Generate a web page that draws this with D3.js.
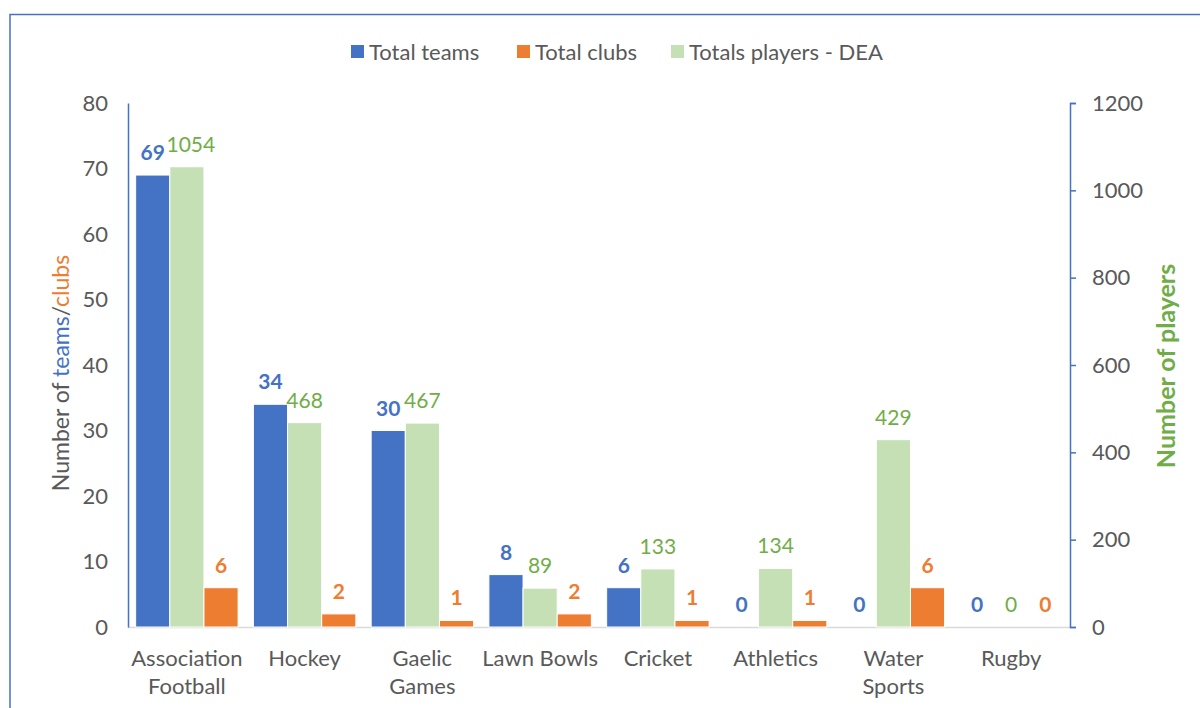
<!DOCTYPE html>
<html><head><meta charset="utf-8">
<script src="https://cdn.jsdelivr.net/npm/d3@7"></script>
<style>body{margin:0;background:#fff;}svg{display:block;font-family:Lato,"Open Sans",sans-serif;}</style>
</head><body><svg id="c" width="1200" height="708"></svg>
<script>
const categories = ["Association Football","Hockey","Gaelic Games","Lawn Bowls","Cricket","Athletics","Water Sports","Rugby"];
const categoryLines = [["Association","Football"],["Hockey"],["Gaelic","Games"],["Lawn Bowls"],["Cricket"],["Athletics"],["Water","Sports"],["Rugby"]];
const totalTeams = [69,34,30,8,6,0,0,0];
const totalClubs = [6,2,1,2,1,1,6,0];
const totalPlayers = [1054,468,467,89,133,134,429,0];
const leftTicks = [0,10,20,30,40,50,60,70,80];
const rightTicks = [0,200,400,600,800,1000,1200];
const legendLabels = ["Total teams","Total clubs","Totals players - DEA"];

const BLUE="#4472C4", ORANGE="#ED7D31", LGREEN="#C5E0B4", GREEN="#70AD47", GRAY="#595959";
const svg = d3.select("#c");
svg.append("rect").attr("x",10).attr("y",14.5).attr("width",1300).attr("height",800)
  .attr("fill","none").attr("stroke",BLUE).attr("stroke-width",1.5);

const x0=128, x1=1070, yTop=103, yBot=627;
const x = d3.scaleBand().domain(categories).range([x0,x1]).paddingInner(0.13).paddingOuter(0.065);
const sub = d3.scaleBand().domain(["teams","players","clubs"]).range([0,x.bandwidth()]);
const yL = d3.scaleLinear().domain([0,80]).range([yBot,yTop]);
const yR = d3.scaleLinear().domain([0,1200]).range([yBot,yTop]);

svg.append("line").attr("x1",x0).attr("x2",x1).attr("y1",yBot+0.5).attr("y2",yBot+0.5).attr("stroke","#D9D9D9").attr("stroke-width",1.5);

const series = [
  {key:"teams", vals:totalTeams, y:yL, fill:BLUE, lab:BLUE, bold:true},
  {key:"players", vals:totalPlayers, y:yR, fill:LGREEN, lab:GREEN, bold:false},
  {key:"clubs", vals:totalClubs, y:yL, fill:ORANGE, lab:ORANGE, bold:true}
];
series.forEach(s=>{
  const g = svg.append("g");
  g.selectAll("rect").data(s.vals).join("rect")
    .attr("x",(d,i)=>x(categories[i])+sub(s.key))
    .attr("width",sub.bandwidth())
    .attr("y",d=>s.y(d)).attr("height",d=>s.y(0)-s.y(d))
    .attr("fill",s.fill).attr("stroke","#fff").attr("stroke-width",1);
  g.selectAll("text").data(s.vals).join("text")
    .attr("x",(d,i)=>x(categories[i])+sub(s.key)+sub.bandwidth()/2 + (s.key==="players"&&i===0?4:0))
    .attr("y",d=>s.y(d)-15)
    .attr("text-anchor","middle").attr("fill",s.lab)
    .attr("font-size",21).attr("font-weight",s.bold?"bold":"normal")
    .text(d=>d);
});

const axL = svg.append("g").attr("transform",`translate(${x0},0)`)
  .call(d3.axisLeft(yL).tickValues(leftTicks).tickSize(0).tickPadding(20));
axL.select(".domain").attr("stroke",BLUE).attr("stroke-width",1.5);
axL.selectAll("text").attr("font-size",22).attr("fill",GRAY).attr("font-family","Lato");

const axR = svg.append("g").attr("transform",`translate(${x1},0)`)
  .call(d3.axisRight(yR).tickValues(rightTicks).tickFormat(d3.format("d")).tickSize(6).tickSizeOuter(6).tickPadding(16));
axR.select(".domain").attr("stroke",BLUE).attr("stroke-width",1.5);
axR.selectAll(".tick line").attr("stroke",BLUE).attr("stroke-width",1.5);
axR.selectAll("text").attr("font-size",22).attr("fill",GRAY).attr("font-family","Lato");

categoryLines.forEach((lines,i)=>{
  const cx = x(categories[i])+x.bandwidth()/2;
  const t = svg.append("text").attr("x",cx).attr("y",666)
    .attr("text-anchor","middle").attr("font-size",22).attr("fill",GRAY);
  lines.forEach((ln,j)=>t.append("tspan").attr("x",cx).attr("dy",j?28:0).text(ln));
});

const tl = svg.append("text").attr("transform",`translate(69,373) rotate(-90)`)
  .attr("text-anchor","middle").attr("font-size",23).attr("fill",GRAY);
tl.append("tspan").text("Number of ");
tl.append("tspan").attr("fill",BLUE).text("teams");
tl.append("tspan").text("/");
tl.append("tspan").attr("fill",ORANGE).text("clubs");
svg.append("text").attr("transform",`translate(1175,366) rotate(-90)`)
  .attr("text-anchor","middle").attr("font-size",25).attr("font-weight","bold").attr("fill",GREEN)
  .text("Number of players");

const legColors=[BLUE,ORANGE,LGREEN];
const legX=[351,517,671];
legendLabels.forEach((l,i)=>{
  svg.append("rect").attr("x",legX[i]).attr("y",45).attr("width",13).attr("height",13).attr("fill",legColors[i]);
  svg.append("text").attr("x",legX[i]+18).attr("y",60).attr("font-size",22).attr("fill",GRAY).text(l);
});
</script></body></html>
